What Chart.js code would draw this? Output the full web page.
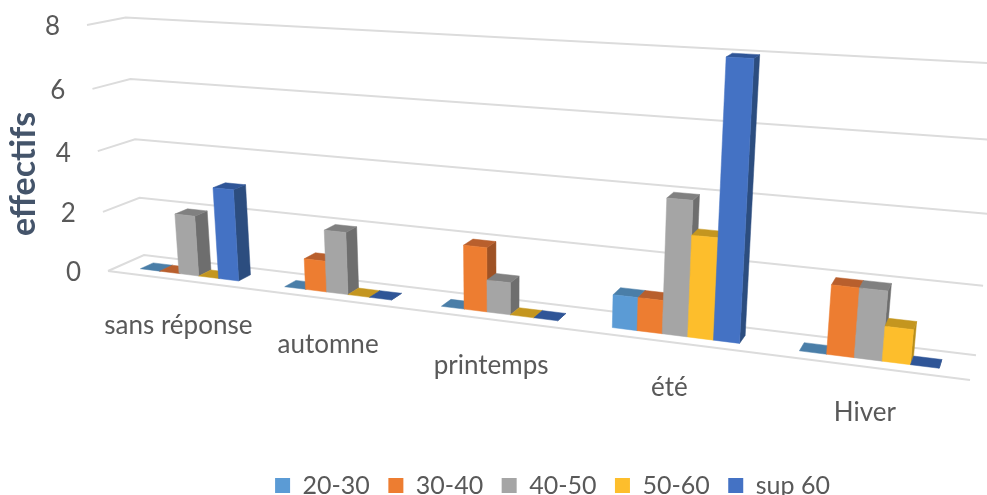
<!DOCTYPE html>
<html>
<head>
<meta charset="utf-8">
<title>effectifs</title>
<script src="https://cdn.jsdelivr.net/npm/chart.js@4/dist/chart.umd.min.js"></script>
<style>
  html, body { margin: 0; padding: 0; background: #fff; }
  canvas { display: block; }
</style>
</head>
<body>
<canvas id="myChart" width="987" height="495"></canvas>
<script>
const categories = ['sans réponse', 'automne', 'printemps', 'été', 'Hiver'];
const seriesNames = ['20-30', '30-40', '40-50', '50-60', 'sup 60'];
const values2030 = [0, 0, 0, 1, 0];
const values3040 = [0, 1, 2, 1, 2];
const values4050 = [2, 2, 1, 4, 2];
const values5060 = [0, 0, 0, 3, 1];
const valuesSup60 = [3, 0, 0, 8, 0];
const yTicks = [0, 2, 4, 6, 8];

// front, top and side colour of each series
const frontColors = ['#5B9BD5', '#ED7D31', '#A5A5A5', '#FDBE2C', '#4472C4'];
const topColors = ['#4A7EA8', '#B85F2D', '#808080', '#C4961F', '#2F5597'];
const sideColors = ['#3F6D96', '#9E5225', '#6E6E6E', '#B98E1A', '#2C4D7F'];

const gridColor = '#DCDCDC';
const textColor = '#595959';

// the box the bars stand in: origin plus the end of each axis, on screen
const origin = [108, 271];
const endX = [970, 380];
const endY = [87, 25];
const endZ = [144, 255];
// perspective terms along each axis
const persp = { x: -0.2, y: -0.05, z: 0.0375 };

// depth range of the bars inside the box
const barFront = 0.3;
const barBack = 0.66;

function axisTerm(end, i, c) {
  return end[i] * (1 + c) - origin[i];
}

// u along categories, v up the value axis, d into the depth, all 0..1
function project(u, v, d) {
  const w = 1 + persp.x * u + persp.y * v + persp.z * d;
  const out = [0, 1].map(i => (origin[i]
    + axisTerm(endX, i, persp.x) * u
    + axisTerm(endY, i, persp.y) * v
    + axisTerm(endZ, i, persp.z) * d) / w);
  return out;
}

function fillFace(ctx, points, color) {
  ctx.beginPath();
  points.forEach((p, i) => {
    if (i === 0) ctx.moveTo(p[0], p[1]);
    else ctx.lineTo(p[0], p[1]);
  });
  ctx.closePath();
  ctx.fillStyle = color;
  ctx.strokeStyle = color;
  ctx.lineWidth = 0.5;
  ctx.fill();
  ctx.stroke();
}

function strokeLine(ctx, points) {
  ctx.beginPath();
  points.forEach((p, i) => {
    if (i === 0) ctx.moveTo(p[0], p[1]);
    else ctx.lineTo(p[0], p[1]);
  });
  ctx.stroke();
}

const perspectiveBars = {
  id: 'perspectiveBars',
  // bars are painted here in 3D, so the flat ones are skipped
  beforeDatasetsDraw(chart) {
    const ctx = chart.ctx;
    const area = chart.chartArea;
    const xScale = chart.scales.x;
    const yScale = chart.scales.y;
    const toU = px => (px - area.left) / area.width;
    const toV = py => (area.bottom - py) / area.height;

    ctx.save();

    // walls and floor
    ctx.strokeStyle = gridColor;
    ctx.lineWidth = 2;
    yTicks.forEach(tick => {
      const v = toV(yScale.getPixelForValue(tick));
      strokeLine(ctx, [project(0, v, 0), project(0, v, 1), project(1, v, 1)]);
    });
    strokeLine(ctx, [project(0, 0, 0), project(1, 0, 0)]);

    // left to right, so each bar covers the side of the one before it
    categories.forEach((name, j) => {
      seriesNames.forEach((s, i) => {
        const bar = chart.getDatasetMeta(i).data[j];
        const u0 = toU(bar.x - bar.width / 2);
        const u1 = toU(bar.x + bar.width / 2);
        const v0 = toV(bar.base);
        const v1 = toV(bar.y);

        fillFace(ctx, [project(u1, v0, barFront), project(u1, v0, barBack),
          project(u1, v1, barBack), project(u1, v1, barFront)], sideColors[i]);
        fillFace(ctx, [project(u0, v1, barFront), project(u0, v1, barBack),
          project(u1, v1, barBack), project(u1, v1, barFront)], topColors[i]);
        if (v1 > v0) {
          fillFace(ctx, [project(u0, v0, barFront), project(u1, v0, barFront),
            project(u1, v1, barFront), project(u0, v1, barFront)], frontColors[i]);
        }
      });
    });

    // axis text
    ctx.fillStyle = textColor;
    ctx.textBaseline = 'middle';
    ctx.font = '26px Lato';
    ctx.textAlign = 'right';
    yTicks.forEach(tick => {
      const p = project(0, toV(yScale.getPixelForValue(tick)), 0);
      ctx.fillText(String(tick), p[0] - 27, p[1] + 2);
    });
    ctx.textAlign = 'center';
    categories.forEach((name, j) => {
      const p = project(toU(xScale.getPixelForTick(j)), 0, 0);
      ctx.fillText(name, p[0], p[1] + 46);
    });

    ctx.save();
    ctx.translate(24, 174);
    ctx.rotate(-Math.PI / 2);
    ctx.font = 'bold 34px Lato';
    ctx.fillStyle = '#44546A';
    ctx.fillText('effectifs', 0, 0);
    ctx.restore();

    ctx.restore();
    return false;
  }
};

const seriesValues = [values2030, values3040, values4050, values5060, valuesSup60];

new Chart(document.getElementById('myChart').getContext('2d'), {
  type: 'bar',
  data: {
    labels: categories,
    datasets: seriesNames.map((name, i) => ({
      label: name,
      data: seriesValues[i],
      backgroundColor: frontColors[i],
      categoryPercentage: 0.69,
      barPercentage: 1
    }))
  },
  options: {
    responsive: false,
    animation: false,
    layout: { padding: { left: 118, bottom: -13 } },
    scales: {
      x: { display: false },
      y: { display: false, min: 0, max: 8, ticks: { stepSize: 2 } }
    },
    plugins: {
      tooltip: { enabled: false },
      legend: {
        position: 'bottom',
        labels: {
          boxWidth: 15,
          boxHeight: 15,
          padding: 18.5,
          color: textColor,
          font: { family: 'Lato', size: 25 }
        }
      }
    }
  },
  plugins: [perspectiveBars]
});
</script>
</body>
</html>
